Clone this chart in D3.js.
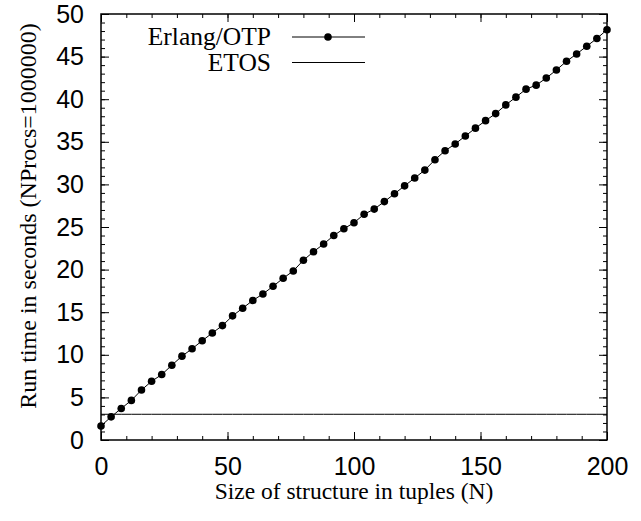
<!DOCTYPE html>
<html>
  <head>
    <meta charset="utf-8" />
    <title>Run time vs structure size</title>
    <script src="https://d3js.org/d3.v7.min.js"></script>
    <style>
      body {
        margin: 0;
        background: #fff;
      }
      svg {
        font-family: "Liberation Serif", "Times New Roman", serif;
        background-color: #fff;
      }
      .axis path {
        display: none;
      }
      .axis line {
        stroke: #000;
        stroke-width: 1;
      }
      .axis text {
        font-size: 25px;
        fill: #000;
      }
    </style>
  </head>
  <body>
    <div id="chart-container"></div>
    <script>
      // tuple sizes (N)
      const sizes = [
        0, 4, 8, 12, 16, 20, 24, 28, 32, 36, 40, 44, 48, 52, 56, 60, 64, 68,
        72, 76, 80, 84, 88, 92, 96, 100, 104, 108, 112, 116, 120, 124, 128,
        132, 136, 140, 144, 148, 152, 156, 160, 164, 168, 172, 176, 180, 184,
        188, 192, 196, 200,
      ];
      // Erlang/OTP run times (s)
      const erlangTimes = [
        1.65, 2.72, 3.7, 4.65, 5.87, 6.89, 7.68, 8.78, 9.84, 10.71, 11.65,
        12.56, 13.43, 14.57, 15.47, 16.38, 17.14, 18.04, 18.98, 19.84, 21.1,
        22.1, 23.0, 24.0, 24.8, 25.5, 26.5, 27.1, 27.98, 28.9, 29.83, 30.75,
        31.68, 32.9, 33.95, 34.75, 35.68, 36.6, 37.48, 38.31, 39.33, 40.24,
        41.18, 41.65, 42.48, 43.43, 44.45, 45.31, 46.22, 47.13, 48.15,
      ];
      // ETOS run times (s)
      const etosTimes = [
        3.02, 3.02, 3.02, 3.02, 3.02, 3.02, 3.02, 3.02, 3.02, 3.02, 3.02,
        3.02, 3.02, 3.02, 3.02, 3.02, 3.02, 3.02, 3.02, 3.02, 3.02, 3.02,
        3.02, 3.02, 3.02, 3.02, 3.02, 3.02, 3.02, 3.02, 3.02, 3.02, 3.02,
        3.02, 3.02, 3.02, 3.02, 3.02, 3.02, 3.02, 3.02, 3.02, 3.02, 3.02,
        3.02, 3.02, 3.02, 3.02, 3.02, 3.02, 3.02,
      ];
      const xTicks = [0, 50, 100, 150, 200];
      const yTicks = [0, 5, 10, 15, 20, 25, 30, 35, 40, 45, 50];
      const seriesNames = ["Erlang/OTP", "ETOS"];

      const margin = { top: 14, right: 34, bottom: 81, left: 101 };
      const totalW = 641;
      const totalH = 521;
      const width = totalW - margin.left - margin.right;
      const height = totalH - margin.top - margin.bottom;

      const xScale = d3.scaleLinear().domain([0, 200]).range([0, width]);
      const yScale = d3.scaleLinear().domain([0, 50]).range([height, 0]);

      const svg = d3
        .select("#chart-container")
        .append("svg")
        .attr("width", totalW)
        .attr("height", totalH);

      const g = svg
        .append("g")
        .attr("transform", `translate(${margin.left},${margin.top})`);

      //minor ticks
      const xMinor = d3.range(0, 201, 10);
      const yMinor = d3.range(0, 51, 1);

      //bottom axis, labels + inward ticks
      g.append("g")
        .attr("class", "axis")
        .attr("transform", `translate(0,${height})`)
        .call(d3.axisBottom(xScale).tickValues(xMinor).tickSize(-4).tickFormat(""));
      g.append("g")
        .attr("class", "axis")
        .attr("transform", `translate(0,${height})`)
        .call(
          d3
            .axisBottom(xScale)
            .tickValues(xTicks)
            .tickSize(-8)
            .tickPadding(17)
            .tickFormat(d3.format("d"))
        );

      //top mirror
      g.append("g")
        .attr("class", "axis")
        .call(d3.axisTop(xScale).tickValues(xMinor).tickSize(-4).tickFormat(""));
      g.append("g")
        .attr("class", "axis")
        .call(d3.axisTop(xScale).tickValues(xTicks).tickSize(-8).tickFormat(""));

      //left axis
      g.append("g")
        .attr("class", "axis")
        .call(d3.axisLeft(yScale).tickValues(yMinor).tickSize(-4).tickFormat(""));
      g.append("g")
        .attr("class", "axis")
        .call(
          d3
            .axisLeft(yScale)
            .tickValues(yTicks)
            .tickSize(-8)
            .tickPadding(17)
            .tickFormat(d3.format("d"))
        );

      //right mirror
      g.append("g")
        .attr("class", "axis")
        .attr("transform", `translate(${width},0)`)
        .call(d3.axisRight(yScale).tickValues(yMinor).tickSize(-4).tickFormat(""));
      g.append("g")
        .attr("class", "axis")
        .attr("transform", `translate(${width},0)`)
        .call(d3.axisRight(yScale).tickValues(yTicks).tickSize(-8).tickFormat(""));

      //border box
      g.append("rect")
        .attr("width", width)
        .attr("height", height)
        .attr("fill", "none")
        .attr("stroke", "#000")
        .attr("stroke-width", 1.5);

      const erlang = sizes.map((n, i) => ({ n: n, t: erlangTimes[i] }));
      const etos = sizes.map((n, i) => ({ n: n, t: etosTimes[i] }));

      const line = d3
        .line()
        .x((d) => xScale(d.n))
        .y((d) => yScale(d.t));

      g.append("path")
        .datum(etos)
        .attr("fill", "none")
        .attr("stroke", "#000")
        .attr("stroke-width", 1)
        .attr("d", line);

      g.append("path")
        .datum(erlang)
        .attr("fill", "none")
        .attr("stroke", "#000")
        .attr("stroke-width", 1)
        .attr("d", line);

      g.selectAll(".dot")
        .data(erlang)
        .join("circle")
        .attr("class", "dot")
        .attr("cx", (d) => xScale(d.n))
        .attr("cy", (d) => yScale(d.t))
        .attr("r", 3.8)
        .attr("fill", "#000");

      //legend
      const legend = svg.append("g");
      seriesNames.forEach((name, i) => {
        const y = 37 + i * 25.5;
        legend
          .append("text")
          .attr("x", 271)
          .attr("y", y + 8)
          .attr("text-anchor", "end")
          .attr("font-size", "25.5px")
          .text(name);
        legend
          .append("line")
          .attr("x1", 292)
          .attr("x2", 365)
          .attr("y1", y)
          .attr("y2", y)
          .attr("stroke", "#000")
          .attr("stroke-width", 1);
        if (i === 0) {
          legend
            .append("circle")
            .attr("cx", 328)
            .attr("cy", y)
            .attr("r", 3.8)
            .attr("fill", "#000");
        }
      });

      //axis titles
      svg
        .append("text")
        .attr("x", margin.left + width / 2)
        .attr("y", 499)
        .attr("text-anchor", "middle")
        .attr("font-size", "23.5px")
        .text("Size of structure in tuples (N)");

      svg
        .append("text")
        .attr("transform", "rotate(-90)")
        .attr("x", -216)
        .attr("y", 36)
        .attr("text-anchor", "middle")
        .attr("font-size", "24px")
        .text("Run time in seconds (NProcs=1000000)");
    </script>
  </body>
</html>
